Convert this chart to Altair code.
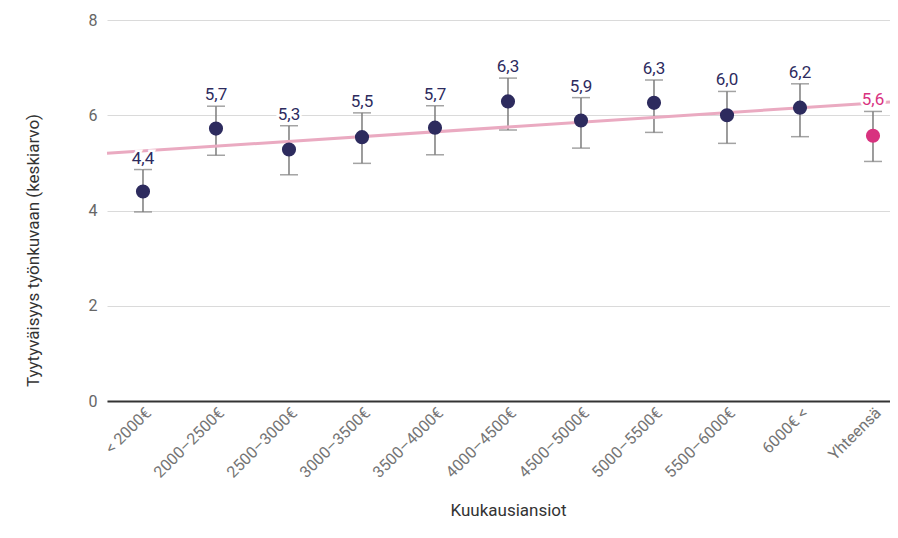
import json
import altair as alt
import pandas as pd

categories = ["< 2000€", "2000–2500€", "2500–3000€", "3000–3500€", "3500–4000€",
              "4000–4500€", "4500–5000€", "5000–5500€", "5500–6000€", "6000€ <", "Yhteensä"]
means = [4.40, 5.72, 5.28, 5.54, 5.74, 6.29, 5.89, 6.26, 6.00, 6.16, 5.57]
upper = [4.86, 6.19, 5.78, 6.05, 6.20, 6.78, 6.37, 6.74, 6.50, 6.66, 6.08]
lower = [3.97, 5.16, 4.75, 4.99, 5.17, 5.69, 5.31, 5.64, 5.41, 5.55, 5.03]
groups = ["ryhmä"] * 10 + ["yhteensä"]
trend_start = [5.20]
trend_end = [6.28]
y_ticks = [0, 2, 4, 6, 8]

NAVY = "#2d2b5e"
PINK = "#d8327f"
TREND = "#eaaac1"
GREY = "#7c7c7c"
YTITLE = "Tyytyväisyys työnkuvaan (keskiarvo)"
XTITLE = "Kuukausiansiot"

df = pd.DataFrame({"idx": list(range(len(categories))), "cat": categories, "mean": means,
                   "upper": upper, "lower": lower, "group": groups})
df["label"] = [f"{v:.1f}".replace(".", ",") for v in means]
trend_df = pd.DataFrame({"start": trend_start, "end": trend_end})

label_expr = json.dumps(categories, ensure_ascii=False) + "[datum.value]"
xaxis = alt.Axis(values=list(range(len(categories))), labelExpr=label_expr, title=XTITLE)
xsc = alt.Scale(domain=[-0.493, 10.233], nice=False, zero=False)
xenc = alt.X("idx:Q", scale=xsc, axis=xaxis)
color = alt.Color("group:N", scale=alt.Scale(domain=["ryhmä", "yhteensä"], range=[NAVY, PINK]),
                  legend=None)
ysc = alt.Scale(domain=[0, 8], nice=False)
yaxis = alt.Axis(values=y_ticks, title=YTITLE)


def Y(field):
    return alt.Y(field, scale=ysc, axis=yaxis)


base = alt.Chart(df)

whisk = base.mark_rule(color=GREY, strokeWidth=1.5).encode(
    x=xenc, y=Y("lower:Q"), y2="upper:Q")
cap_hi = base.mark_tick(color=GREY, thickness=1.5, size=18, orient="horizontal").encode(
    x=xenc, y=Y("upper:Q"))
cap_lo = base.mark_tick(color=GREY, thickness=1.5, size=18, orient="horizontal").encode(
    x=xenc, y=Y("lower:Q"))
trend = alt.Chart(trend_df).mark_rule(color=TREND, strokeWidth=3).encode(
    x=alt.value(0), x2=alt.value("width"), y=Y("start:Q"), y2="end:Q")
points = base.mark_circle(size=200, opacity=1).encode(
    x=xenc, y=Y("mean:Q"), color=color)
halo = base.mark_text(dy=-6, baseline="alphabetic", fontSize=17, stroke="white",
                      strokeWidth=5, fill="white").encode(
    x=xenc, y=Y("upper:Q"), text="label:N")
labels = base.mark_text(dy=-6, baseline="alphabetic", fontSize=17).encode(
    x=xenc, y=Y("upper:Q"), text="label:N", color=color)

chart = alt.layer(whisk, cap_hi, cap_lo, trend, points, halo, labels).properties(
    width=783, height=381,
    autosize=alt.AutoSizeParams(type="none"),
    padding={"left": 99, "top": 12, "right": 0, "bottom": 121},
).configure(font="Roboto").configure_view(strokeWidth=0).configure_axisY(
    grid=True, gridColor="#dadada", gridWidth=1,
    domain=False, ticks=False, labelPadding=10, labelFontSize=16, labelColor="#666666",
    titleX=-74, titleY=230, titleBaseline="middle", titleFontSize=17,
    titleColor="#333333", titleFontWeight="normal",
).configure_axisX(
    grid=False, ticks=False, domainColor="#333333", domainWidth=2,
    labelAngle=-45, labelAlign="right", labelBaseline="middle", labelPadding=9,
    labelFontSize=16, labelColor="#757575", labelFlush=False, labelOverlap=False,
    labelOffset=5,
    titleX=401, titleY=109, titleBaseline="middle", titleFontSize=17,
    titleColor="#333333", titleFontWeight="normal",
)

chart.save("out.html", embed_options={"renderer": "svg", "actions": False})
